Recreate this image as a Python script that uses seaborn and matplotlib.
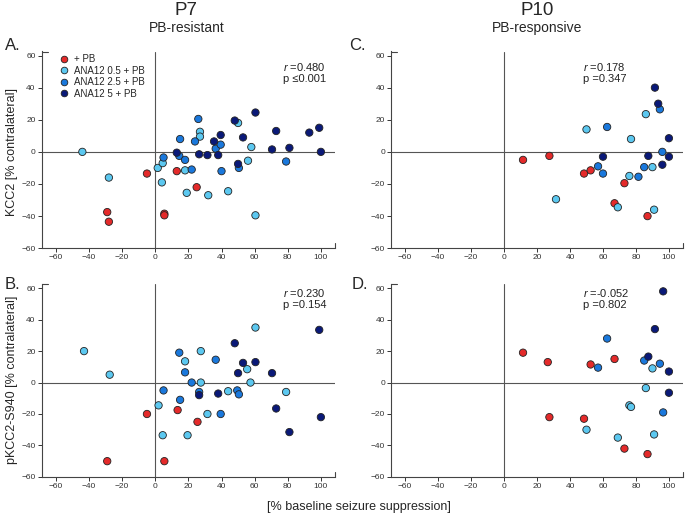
import numpy as np
import pandas as pd
import seaborn as sns
import matplotlib.pyplot as plt

GROUPS = ["+ PB", "ANA12 0.5 + PB", "ANA12 2.5 + PB", "ANA12 5 + PB"]
COLORS = ["#E42A2A", "#5CC8F0", "#1A78DC", "#0A1978"]

# group code per point: 0 = +PB, 1 = 0.5, 2 = 2.5, 3 = 5
# A. P7, KCC2
A_x = [-5, 13, 25, -29, -28, 5.5, 5.5,
       -44, -28, 1.5, 4.5, 4, 18, 19, 27, 27, 32, 44, 50, 56, 58, 60.5,
       5, 15, 14.5, 18, 22, 26, 24, 36.5, 39.5, 40, 50.5, 79,
       13, 26.5, 31.5, 35.5, 38, 39.5, 48, 53, 50, 60.5, 70.5, 73, 81, 93, 99, 100]
A_y = [-13.5, -12, -22, -37.5, -43.5, -38.5, -39.5,
       0, -16, -10, -7, -19, -11.5, -25.5, 12.5, 9.5, -27, -24.5, 18, -5.5, 3, -39.5,
       -3.5, 8, -2.5, -5, -11, 20.5, 6.5, 2, 4.5, -12, -10, -6,
       -0.5, -1.5, -2, 6.5, -2, 10.5, 19.5, 9, -7.5, 24.5, 1.5, 13, 2.5, 12, 15, 0]
A_g = [0] * 7 + [1] * 15 + [2] * 12 + [3] * 16

# B. P7, pKCC2-S940
B_x = [-5, -29, 5.5, 13.5, 25.5,
       -43, -27.5, 2, 4.5, 18, 19.5, 27.5, 27.5, 31.5, 44, 55.5, 57.5, 60.5, 79,
       5, 14.5, 15, 18, 22, 26.5, 36.5, 39.5, 49.5, 50.5,
       26.5, 38, 48, 50, 53, 60.5, 70.5, 73, 81, 99, 100]
B_y = [-20, -50, -50, -17.5, -25,
       20, 5, -14.5, -33.5, 13.5, -33.5, 20, 0, -20, -5.5, 8.5, 0, 35, -6,
       -5, 19, -11, 6.5, 0, -6, 14.5, -20, -5, -7.5,
       -8, -7, 25, 6, 12.5, 13, 6, -16.5, -31.5, 33.5, -22]
B_g = [0] * 5 + [1] * 14 + [2] * 10 + [3] * 11

# C. P10, KCC2
C_x = [11.5, 27.5, 48.5, 52.5, 73, 67, 87,
       50, 31.5, 77, 86, 76, 69, 90, 91,
       62.5, 57, 60, 81.5, 85, 94.5, 96,
       60, 91.5, 93.5, 87.5, 96, 100, 100]
C_y = [-5, -2.5, -13.5, -11.5, -19.5, -32, -40,
       14, -29.5, 8, 23.5, -15, -34.5, -9.5, -36,
       15.5, -9, -13.5, -15.5, -9.5, 26.5, 0,
       -3, 40, 30, -2.5, -8, 8.5, -3]
C_g = [0] * 7 + [1] * 8 + [2] * 7 + [3] * 7

# D. P10, pKCC2-S940
D_x = [11.5, 26.5, 27.5, 48.5, 52.5, 67, 73, 87,
       50, 69, 76, 77, 86, 90, 91,
       57, 62.5, 85, 94.5, 96.5,
       87.5, 91.5, 96.5, 100, 100]
D_y = [19, 13, -22, -23, 11.5, 15, -42, -45.5,
       -30, -35, -14.5, -15.5, -3.5, 9, -33,
       9.5, 28, 14, 12, -19,
       16.5, 34, 58, 7, -6.5]
D_g = [0] * 8 + [1] * 7 + [2] * 5 + [3] * 5

STATS = {
    "A": ("0.480", "\u22640.001"),
    "B": ("0.230", "=0.154"),
    "C": ("0.178", "=0.347"),
    "D": ("-0.052", "=0.802"),
}

sns.set_style("white")
plt.rcParams["font.family"] = ["Liberation Sans", "DejaVu Sans"]
plt.rcParams["mathtext.fontset"] = "custom"
plt.rcParams["mathtext.it"] = "Liberation Sans:italic"
plt.rcParams["mathtext.rm"] = "Liberation Sans"

fig = plt.figure(figsize=(6.85, 5.15), dpi=100)

# axes boxes in figure fractions
boxes = {
    "A": [0.061, 0.518, 0.428, 0.382],
    "C": [0.571, 0.518, 0.426, 0.382],
    "B": [0.061, 0.074, 0.428, 0.374],
    "D": [0.571, 0.074, 0.426, 0.374],
}
panel_data = {"A": (A_x, A_y, A_g), "B": (B_x, B_y, B_g),
              "C": (C_x, C_y, C_g), "D": (D_x, D_y, D_g)}
text_pos = {"A": (77, 53), "B": (77, 57), "C": (48, 53), "D": (48, 57)}

for key in ["A", "B", "C", "D"]:
    ax = fig.add_axes(boxes[key])
    xs, ys, gs = panel_data[key]
    df = pd.DataFrame({"x": xs, "y": ys, "group": [GROUPS[g] for g in gs]})
    ax.axhline(0, color="#555555", lw=0.8, zorder=1)
    ax.axvline(0, color="#555555", lw=0.8, zorder=1)
    sns.scatterplot(data=df, x="x", y="y", hue="group", hue_order=GROUPS,
                    palette=COLORS, s=28, edgecolor="#222222", linewidth=0.6,
                    ax=ax, legend=(key == "A"), zorder=3)
    ax.set_xlim(-68.5, 108.5)
    ax.set_ylim(-60, 62.5)
    ax.set_xticks(np.arange(-60, 101, 20))
    ax.set_yticks(np.arange(-60, 61, 20))
    ax.set_xlabel("")
    ax.set_ylabel("")
    for s in ["top", "right"]:
        ax.spines[s].set_visible(False)
    for s in ["left", "bottom"]:
        ax.spines[s].set_color("#444444")
        ax.spines[s].set_linewidth(0.8)
    ax.tick_params(axis="both", direction="out", length=3, width=0.7,
                   labelsize=6, colors="#333333", pad=1.5, left=True, bottom=True)
    # small end caps on the spines
    ax.plot([0, 0.02], [1, 1], transform=ax.transAxes, color="#444444",
            lw=0.8, clip_on=False)
    ax.plot([1, 1], [0, 0.025], transform=ax.transAxes, color="#444444",
            lw=0.8, clip_on=False)

    r, p = STATS[key]
    tx, ty = text_pos[key]
    ax.text(tx, ty, r"$\mathit{r}$ =" + r, fontsize=8, ha="left", va="center", color="#222222")
    ax.text(tx, ty - 7.5, "p " + p, fontsize=8, ha="left", va="center", color="#222222")

    if key == "A":
        handles, labels = ax.get_legend_handles_labels()
        ax.legend(handles, labels, loc="upper left", bbox_to_anchor=(0.02, 1.02),
                  frameon=False, fontsize=7, handletextpad=0.0, labelspacing=0.15,
                  borderpad=0.2, markerscale=0.9)

# panel letters
fig.text(0.007, 0.912, "A.", fontsize=12, va="center")
fig.text(0.007, 0.448, "B.", fontsize=12, va="center")
fig.text(0.510, 0.912, "C.", fontsize=12, va="center")
fig.text(0.513, 0.448, "D.", fontsize=12, va="center")

# column titles
fig.text(0.272, 0.980, "P7", fontsize=13.5, ha="center", va="center")
fig.text(0.272, 0.946, "PB-resistant", fontsize=10, ha="center", va="center")
fig.text(0.784, 0.980, "P10", fontsize=13.5, ha="center", va="center")
fig.text(0.784, 0.946, "PB-responsive", fontsize=10, ha="center", va="center")

# axis labels
fig.text(0.017, 0.705, "KCC2 [% contralateral]", fontsize=9, rotation=90,
         ha="center", va="center")
fig.text(0.017, 0.262, "pKCC2-S940 [% contralateral]", fontsize=9, rotation=90,
         ha="center", va="center")
fig.text(0.524, 0.016, "[% baseline seizure suppression]", fontsize=9,
         ha="center", va="center")

plt.savefig("out.png", dpi=100)
